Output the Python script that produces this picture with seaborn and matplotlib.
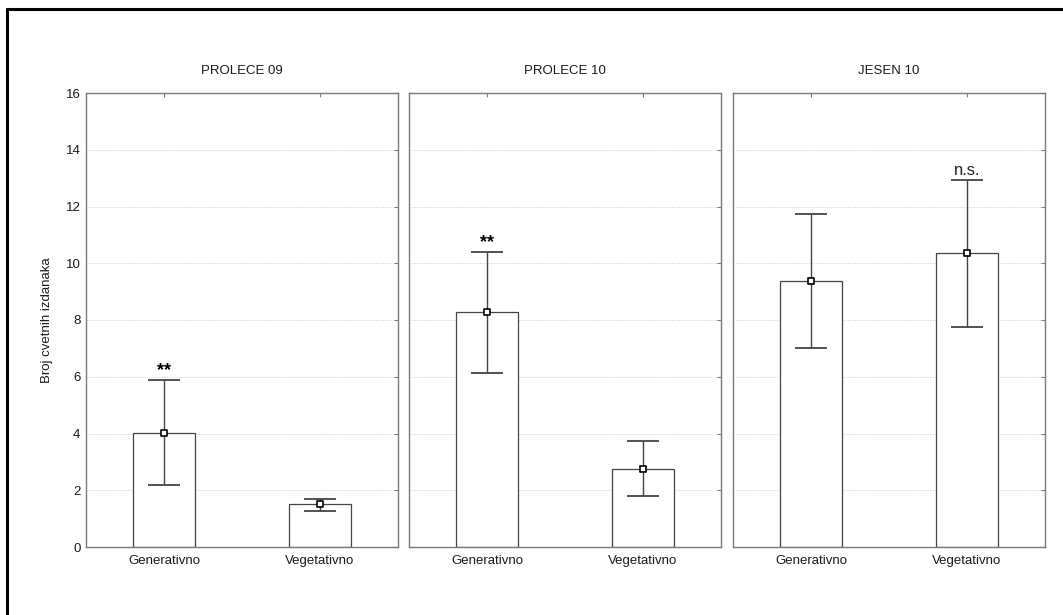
import numpy as np
import pandas as pd
import matplotlib
matplotlib.use("Agg")
import matplotlib.pyplot as plt
import seaborn as sns
from matplotlib.lines import Line2D

sns.set_style("white")
plt.rcParams['font.family'] = ['Liberation Sans', 'DejaVu Sans']

# podaci
seasons = ['PROLECE 09', 'PROLECE 10', 'JESEN 10']
groups = ['Generativno', 'Vegetativno']
means = [[4.03, 1.50], [8.27, 2.76], [9.38, 10.35]]
lower = [[2.18, 1.28], [6.12, 1.80], [7.00, 7.76]]
upper = [[5.88, 1.70], [10.40, 3.73], [11.73, 12.92]]
marks = [['**', ''], ['**', ''], ['', 'n.s.']]

rows = []
for i, s in enumerate(seasons):
    for j, g in enumerate(groups):
        rows.append({'season': s, 'group': g, 'mean': means[i][j],
                     'lo': lower[i][j], 'hi': upper[i][j], 'mark': marks[i][j]})
df = pd.DataFrame(rows)

fig = plt.figure(figsize=(10.63, 6.15), dpi=100)
lefts = [86 / 1063, 409 / 1063, 733 / 1063]
width = 312 / 1063
bottom = 1 - 547 / 615
height = (547 - 93) / 615

spine_col = '#7a7a7a'
txt_col = '#1a1a1a'
for k, s in enumerate(seasons):
    ax = fig.add_axes([lefts[k], bottom, width, height])
    d = df[df['season'] == s]
    sns.barplot(data=d, x='group', y='mean', order=groups, errorbar=None,
                color='white', edgecolor='#444444', linewidth=0.9, width=0.4, ax=ax)
    x = np.arange(len(groups))
    ax.errorbar(x, d['mean'], yerr=[d['mean'] - d['lo'], d['hi'] - d['mean']],
                fmt='none', ecolor='#444444', elinewidth=1.0, capsize=11.5, capthick=1.3, zorder=4)
    ax.scatter(x, d['mean'], marker='s', s=18, facecolor='white', edgecolor='black',
               linewidth=1.2, zorder=5)
    for xi, (hi, m) in enumerate(zip(d['hi'], d['mark'])):
        if m == '**':
            ax.text(xi, hi + 0.02, m, ha='center', va='bottom', fontsize=13,
                    fontweight='bold', color='black')
        elif m:
            ax.text(xi, hi + 0.08, m, ha='center', va='bottom', fontsize=12, color='#222222')
    ax.set_xlim(-0.5, 1.5)
    ax.set_ylim(0, 16)
    ax.set_yticks(range(0, 17, 2))
    for yv in range(2, 16, 2):
        ax.axhline(yv, color='#cccccc', linestyle=(0, (1, 1.5)), linewidth=0.7, zorder=0)
    ax.tick_params(axis='both', direction='in', length=3, width=0.8, color=spine_col,
                   top=True, right=True, labelsize=9.5, labelcolor=txt_col, pad=4)
    ax.tick_params(axis='x', pad=6)
    if k > 0:
        ax.tick_params(labelleft=False)
        ax.set_ylabel('')
    else:
        ax.set_ylabel('Broj cvetnih izdanaka', fontsize=9.5, labelpad=9, color=txt_col)
    ax.set_xlabel('')
    for sp in ax.spines.values():
        sp.set_color(spine_col)
        sp.set_linewidth(1.0)
        sp.set_visible(True)
    ax.set_title(s, fontsize=9.5, pad=14, color=txt_col)

# okvir (gore i levo)
fig.add_artist(Line2D([7 / 1063, 1], [1 - 9 / 615, 1 - 9 / 615], color='black', linewidth=2.2,
                      transform=fig.transFigure))
fig.add_artist(Line2D([7 / 1063, 7 / 1063], [0, 1 - 9 / 615], color='black', linewidth=2.2,
                      transform=fig.transFigure))

fig.savefig('out.png', dpi=100, facecolor='white')
